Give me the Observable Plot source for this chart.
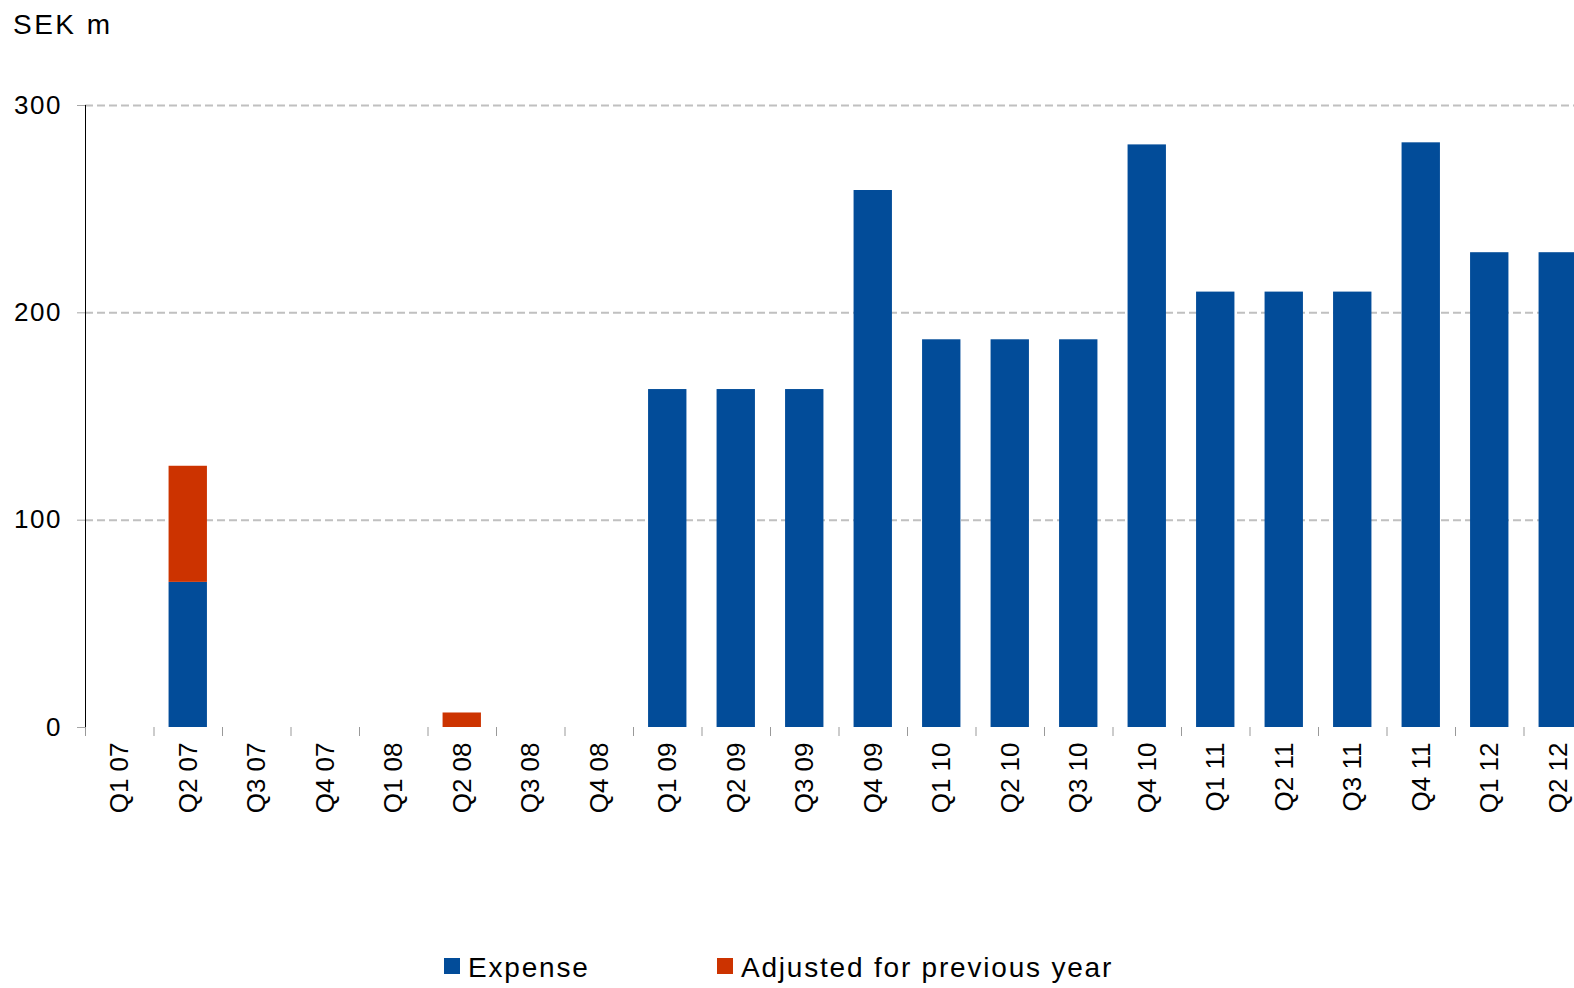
<!DOCTYPE html>
<html>
<head>
<meta charset="utf-8">
<script src="https://cdn.jsdelivr.net/npm/d3@7"></script>
<script src="https://cdn.jsdelivr.net/npm/@observablehq/plot@0.6"></script>
<style>
  html, body { margin: 0; padding: 0; background: white; overflow: hidden; }
  body { width: 1574px; font-family: "Liberation Sans", Arial, sans-serif; color: black; }
  #title { height: 50px; line-height: 50px; padding-left: 13px; font-size: 28px; letter-spacing: 2.5px; }
  #legend { position: relative; height: 88px; font-size: 28px; letter-spacing: 1.8px; }
  .item { position: absolute; top: 52px; line-height: 31px; white-space: nowrap; }
  .sw { display: inline-block; width: 16px; height: 16px; vertical-align: 3px; margin-right: 8px; }
  g[aria-label="y-axis tick label"] text { letter-spacing: 1.5px; }
</style>
</head>
<body>
<div id="title">SEK m</div>
<div id="chart"></div>
<div id="legend"></div>
<script>
const quarters = ["Q1 07","Q2 07","Q3 07","Q4 07","Q1 08","Q2 08","Q3 08","Q4 08",
                  "Q1 09","Q2 09","Q3 09","Q4 09","Q1 10","Q2 10","Q3 10","Q4 10",
                  "Q1 11","Q2 11","Q3 11","Q4 11","Q1 12","Q2 12"];
const expense  = [0,70,0,0,0,0,0,0,163,163,163,259,187,187,187,281,210,210,210,282,229,229];
const adjusted = [0,56,0,0,0,7,0,0,0,0,0,0,0,0,0,0,0,0,0,0,0,0];
const seriesNames = ["Expense","Adjusted for previous year"];
const seriesColors = ["#024c99","#cc3300"];
const yTicks = [0,100,200,300];
const gridTicks = [100,200,300];

const rows = quarters.flatMap((q, i) => [
  {quarter: q, series: seriesNames[0], value: expense[i]},
  {quarter: q, series: seriesNames[1], value: adjusted[i]}
]);

const step = (1592 - 85) / quarters.length;

const chart = Plot.plot({
  width: 1574,
  height: 850,
  marginTop: 55,
  marginBottom: 173,
  marginLeft: 85,
  marginRight: 0,
  style: {fontFamily: "'Liberation Sans', Arial, sans-serif", fontSize: "25px", background: "white", color: "black"},
  x: {domain: quarters, range: [85, 1592], paddingInner: 0.44, paddingOuter: 0.22, align: 0.5, round: false, axis: null},
  y: {domain: [0, 300], axis: null},
  color: {domain: seriesNames, range: seriesColors},
  marks: [
    Plot.ruleY(gridTicks, {stroke: "#c0c0c0", strokeWidth: 2, strokeDasharray: "8,4"}),
    Plot.barY(rows, {filter: d => d.value > 0, x: "quarter", y: "value", fill: "series", order: seriesNames}),
    Plot.axisY({ticks: yTicks, tickSize: 8, tickPadding: 15.5, stroke: "#a6a6a6", fill: "black", fontSize: 26, label: null}),
    Plot.frame({anchor: "left", stroke: "black"}),
    Plot.axisX({tickSize: 9, fill: "none", stroke: "#999999", dx: -step / 2, label: null}),
    Plot.axisX({tickSize: 0, tickPadding: 15, tickRotate: -90, fill: "black", fontSize: 26, label: null})
  ]
});
document.getElementById("chart").appendChild(chart);

const legend = document.getElementById("legend");
const lefts = [444, 717];
seriesNames.forEach((name, i) => {
  const item = document.createElement("div");
  item.className = "item";
  item.style.left = lefts[i] + "px";
  const sw = document.createElement("span");
  sw.className = "sw";
  sw.style.background = seriesColors[i];
  item.appendChild(sw);
  item.appendChild(document.createTextNode(name));
  legend.appendChild(item);
});
</script>
</body>
</html>
